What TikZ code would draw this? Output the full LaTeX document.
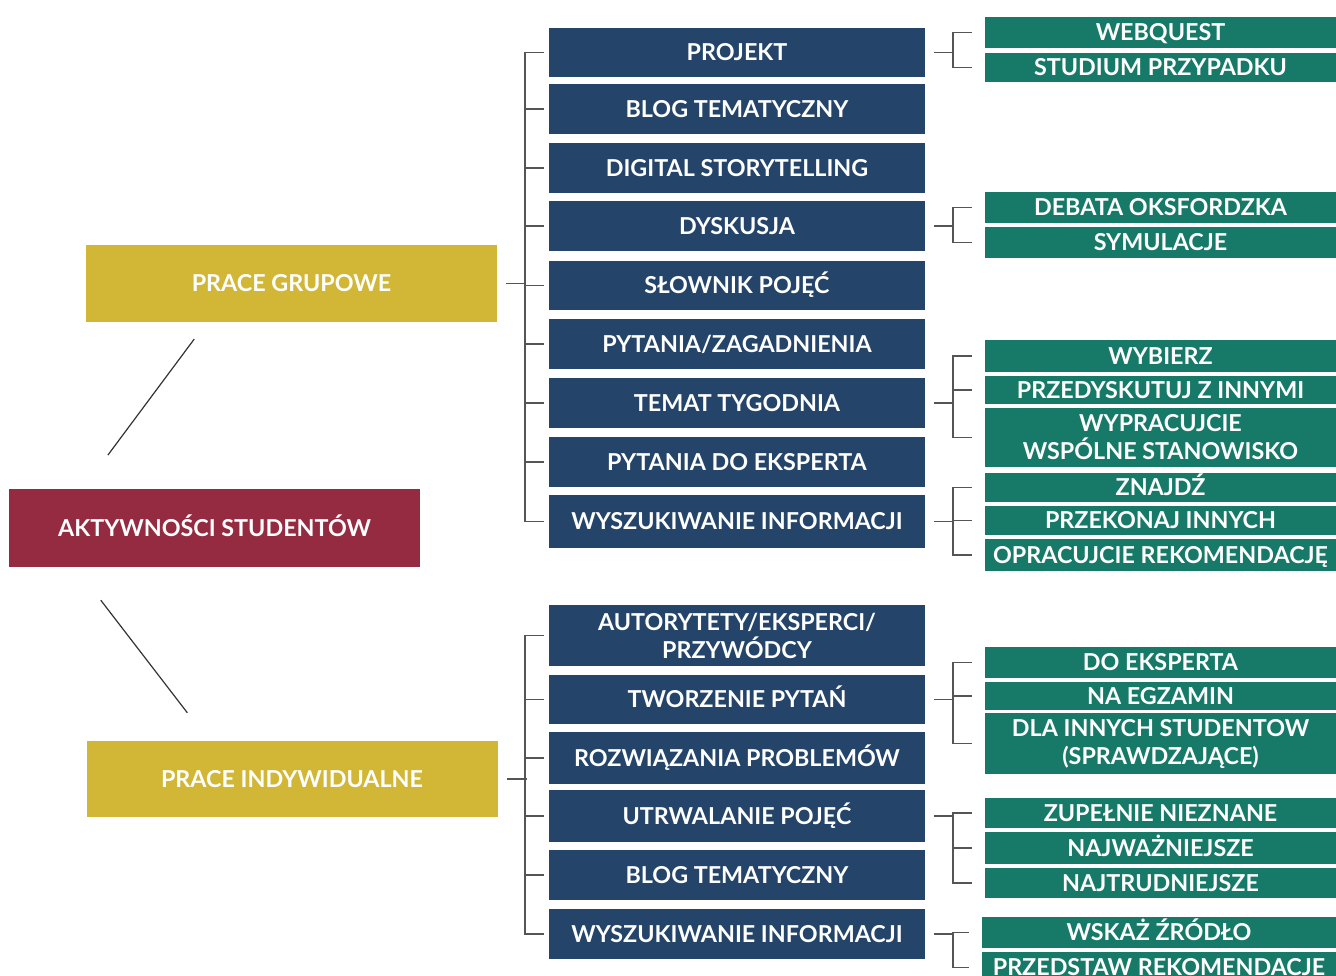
\documentclass[tikz,border=0pt]{standalone}
\usepackage{fontspec}
\setmainfont{Lato}
\usetikzlibrary{calc}
\definecolor{navy}{HTML}{24446A}
\definecolor{teal2}{HTML}{177A68}
\definecolor{gold}{HTML}{D2B737}
\definecolor{wine}{HTML}{952B40}
\definecolor{linegray}{HTML}{555555}
\begin{document}
\begin{tikzpicture}[x=1pt,y=-1pt,
  box/.style={rectangle, inner sep=0pt, text=white, font=\bfseries\fontsize{23.3}{28}\selectfont, align=center},
  one/.style={text height=16.8pt, text depth=0pt},
  navybox/.style={box, fill=navy, minimum width=376pt, minimum height=50pt},
  greenbox/.style={box, fill=teal2, minimum width=351pt, font=\bfseries\fontsize{23.3}{28}\selectfont},
  mainbox/.style={box, one, minimum width=411pt, minimum height=77pt},
  br/.style={draw=linegray, line width=1.8pt, line cap=rect},
  diag/.style={draw=black!80, line width=1.2pt}]
\useasboundingbox (0,0) rectangle (1336,976);

% main nodes
\node[mainbox, fill=wine, minimum height=78pt] (root) at (214.5,528) {AKTYWNOŚCI STUDENTÓW};
\node[mainbox, fill=gold] (pg) at (291.5,283.5) {PRACE GRUPOWE};
\node[mainbox, fill=gold, minimum height=76pt] (pi) at (292,779) {PRACE INDYWIDUALNE};

% group activities
\node[navybox, one, minimum height=49pt] (a1) at (737,52.5) {PROJEKT};
\node[navybox, one] (a2) at (737,109) {BLOG TEMATYCZNY};
\node[navybox, one] (a3) at (737,168) {DIGITAL STORYTELLING};
\node[navybox, one] (a4) at (737,226) {DYSKUSJA};
\node[navybox, one, minimum height=49pt] (a5) at (737,285.5) {SŁOWNIK POJĘĆ};
\node[navybox, one] (a6) at (737,344) {PYTANIA/ZAGADNIENIA};
\node[navybox, one] (a7) at (737,403) {TEMAT TYGODNIA};
\node[navybox, one] (a8) at (737,462) {PYTANIA DO EKSPERTA};
\node[navybox, one, minimum height=53pt] (a9) at (737,521.5) {WYSZUKIWANIE INFORMACJI};

% individual activities
\node[navybox, minimum height=61pt] (b1) at (737,635.5) {\raisebox{-2pt}{AUTORYTETY/EKSPERCI/}\\\raisebox{-2pt}{PRZYWÓDCY}};
\node[navybox, one, minimum height=49pt] (b2) at (737,699.5) {TWORZENIE PYTAŃ};
\node[navybox, one, minimum height=52pt] (b3) at (737,758) {ROZWIĄZANIA PROBLEMÓW};
\node[navybox, one, minimum height=52pt] (b4) at (737,816) {UTRWALANIE POJĘĆ};
\node[navybox, one] (b5) at (737,875) {BLOG TEMATYCZNY};
\node[navybox, one] (b6) at (737,934) {WYSZUKIWANIE INFORMACJI};

% green leaves
\node[greenbox, one, minimum height=31pt] (g1) at (1160.5,32.5) {WEBQUEST};
\node[greenbox, one, minimum height=29pt] (g2) at (1160.5,67.5) {STUDIUM PRZYPADKU};
\node[greenbox, one, minimum height=31pt] (g3) at (1160.5,207.5) {DEBATA OKSFORDZKA};
\node[greenbox, one, minimum height=31pt] (g4) at (1160.5,242.5) {SYMULACJE};
\node[greenbox, one, minimum height=32pt] (g5) at (1160.5,356) {WYBIERZ};
\node[greenbox, one, minimum height=28pt] (g6) at (1160.5,390) {PRZEDYSKUTUJ Z INNYMI};
\node[greenbox, minimum height=59pt] (g7) at (1160.5,437.5) {WYPRACUJCIE\\WSPÓLNE STANOWISKO};
\node[greenbox, one, minimum height=29pt] (g8) at (1160.5,487.5) {ZNAJDŹ};
\node[greenbox, one, minimum height=29pt] (g9) at (1160.5,520.5) {PRZEKONAJ INNYCH};
\node[greenbox, one, minimum height=32pt] (g10) at (1160.5,555) {OPRACUJCIE REKOMENDACJĘ};
\node[greenbox, one, minimum height=31pt] (h1) at (1160.5,662.5) {DO EKSPERTA};
\node[greenbox, one, minimum height=28pt] (h2) at (1160.5,696) {NA EGZAMIN};
\node[greenbox, minimum height=61pt] (h3) at (1160.5,743.5) {\raisebox{-2pt}{DLA INNYCH STUDENTOW}\\\raisebox{-2pt}{(SPRAWDZAJĄCE)}};
\node[greenbox, one, minimum height=30pt] (h4) at (1160.5,813) {ZUPEŁNIE NIEZNANE};
\node[greenbox, one, minimum height=32pt] (h5) at (1160.5,848) {NAJWAŻNIEJSZE};
\node[greenbox, one, minimum height=30pt] (h6) at (1160.5,883) {NAJTRUDNIEJSZE};
\node[greenbox, one, minimum height=31pt, minimum width=354pt] (h7) at (1159,932.5) {WSKAŻ ŹRÓDŁO};
\node[greenbox, one, minimum height=31pt, minimum width=354pt] (h8) at (1159,967.5) {PRZEDSTAW REKOMENDACJE};

% diagonal connectors
\draw[diag, shorten <=42pt, shorten >=21pt] ([xshift=74pt]root.north west) -- ([xshift=121pt]pg.south west);
\draw[diag, shorten <=41.6pt, shorten >=35.3pt] ([xshift=66.6pt]root.south west) -- ([xshift=122.6pt]pi.north west);

% left brackets
\draw[br] ([xshift=10pt]pg.east) -- ([xshift=28pt]pg.east);
\draw[br] ([xshift=-24pt]a1.west) -- ([xshift=-24pt]a9.west);
\foreach \n in {a1,a2,a3,a4,a5,a6,a7,a8,a9}
  \draw[br] ([xshift=-24pt]\n.west) -- ([xshift=-6pt]\n.west);
\draw[br] ([xshift=10pt]pi.east) -- ([xshift=28pt]pi.east);
\draw[br] ([xshift=-24pt]b1.west) -- ([xshift=-24pt]b6.west);
\foreach \n in {b1,b2,b3,b4,b5,b6}
  \draw[br] ([xshift=-24pt]\n.west) -- ([xshift=-6pt]\n.west);

% right brackets
\foreach \p/\f/\l/\all in {a1/g1/g2/{g1,g2}, a4/g3/g4/{g3,g4}, a7/g5/g7/{g5,g6,g7}, a9/g8/g10/{g8,g9,g10}, b2/h1/h3/{h1,h2,h3}, b4/h4/h6/{h4,h5,h6}, b6/h7/h8/{h7,h8}}{
  \draw[br] ([xshift=10pt]\p.east) -- ([xshift=28pt]\p.east);
  \draw[br] ([xshift=28pt]\p.east |- \f.center) -- ([xshift=28pt]\p.east |- \l.center);
  \foreach \c in \all
    \draw[br] ([xshift=28pt]\p.east |- \c.center) -- ([xshift=-14pt]\c.west);
}
\end{tikzpicture}
\end{document}
